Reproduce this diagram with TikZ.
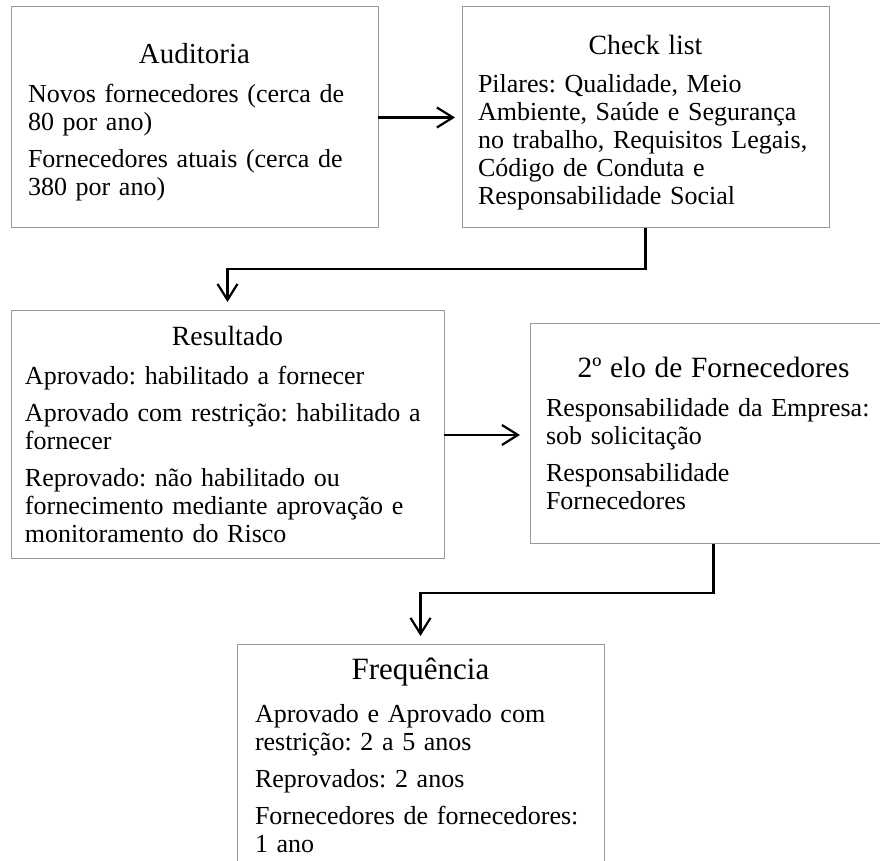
\documentclass[tikz,border=0pt]{standalone}
\usepackage{fontspec}
\setmainfont{Liberation Serif}
\frenchspacing
\usetikzlibrary{arrows.meta}
\newcommand{\boxtitle}[2]{\makebox[\linewidth]{\fontsize{#1}{#1}\selectfont #2}}

\begin{document}
\begin{tikzpicture}[x=0.5pt, y=0.5pt, >={Straight Barb[length=8pt,width=10pt]},
    caixa/.style={draw=black!40, line width=0.5pt, rectangle, anchor=north west, align=left,
        outer sep=0pt, inner ysep=0pt, font=\fontsize{13}{14}\selectfont},
    seta/.style={->, line width=1.1pt}]
    \clip (0,0) rectangle (880,-861);
    \node [caixa, inner xsep=8.5pt, text width=166.5pt, text height=28.5pt, text depth=82pt] (aud) at (11,-7)
        {\boxtitle{14.5}{Auditoria}\\[5.5pt]
        Novos fornecedores (cerca de\\ 80 por ano)\\[4.5pt]
        Fornecedores atuais (cerca de\\ 380 por ano)};
    \node [caixa, inner xsep=8pt, text width=167.5pt, text height=24pt, text depth=86.5pt] (chk) at (462,-7)
        {\boxtitle{13.9}{Check list}\\[5pt]
        Pilares: Qualidade, Meio\\ Ambiente, Saúde e Segurança\\ no trabalho, Requisitos Legais,\\
        Código de Conduta e\\ Responsabilidade Social};
    \node [caixa, inner xsep=7pt, text width=202.5pt, text height=17.5pt, text depth=106.5pt] (res) at (11,-311)
        {\boxtitle{13.9}{Resultado}\\[5.5pt]
        Aprovado: habilitado a fornecer\\[4.5pt]
        Aprovado com restrição: habilitado a\\ fornecer\\[4.5pt]
        Reprovado: não habilitado ou\\ fornecimento mediante aprovação e\\ monitoramento do Risco};
    \node [caixa, inner xsep=8pt, text width=167.5pt, text height=27pt, text depth=83pt] (elo) at (530,-324)
        {\boxtitle{14.7}{2º elo de Fornecedores}\\[5.5pt]
        Responsabilidade da Empresa:\\ sob solicitação\\[4.5pt]
        Responsabilidade\\ Fornecedores};
    \node [caixa, inner xsep=9pt, text width=165.5pt, text height=17.5pt, text depth=95pt] (freq) at (237,-645)
        {\boxtitle{15.5}{Frequência}\\[7.5pt]
        Aprovado e Aprovado com\\ restrição: 2 a 5 anos\\[4.5pt]
        Reprovados: 2 anos\\[4.5pt]
        Fornecedores de fornecedores:\\ 1 ano};
    % ligacoes
    \draw [seta, shorten >=3.5pt] (aud) -- (chk);
    \draw [seta, shorten >=4.5pt] (chk.south) -- ++(0,-41) -| (res.north);
    \draw [seta, shorten >=5pt] (res.east) -- (res.east -| elo.west);
    \draw [seta, shorten >=4.5pt] (elo.south) -- ++(0,-49) -| (freq.north);
\end{tikzpicture}
\end{document}
